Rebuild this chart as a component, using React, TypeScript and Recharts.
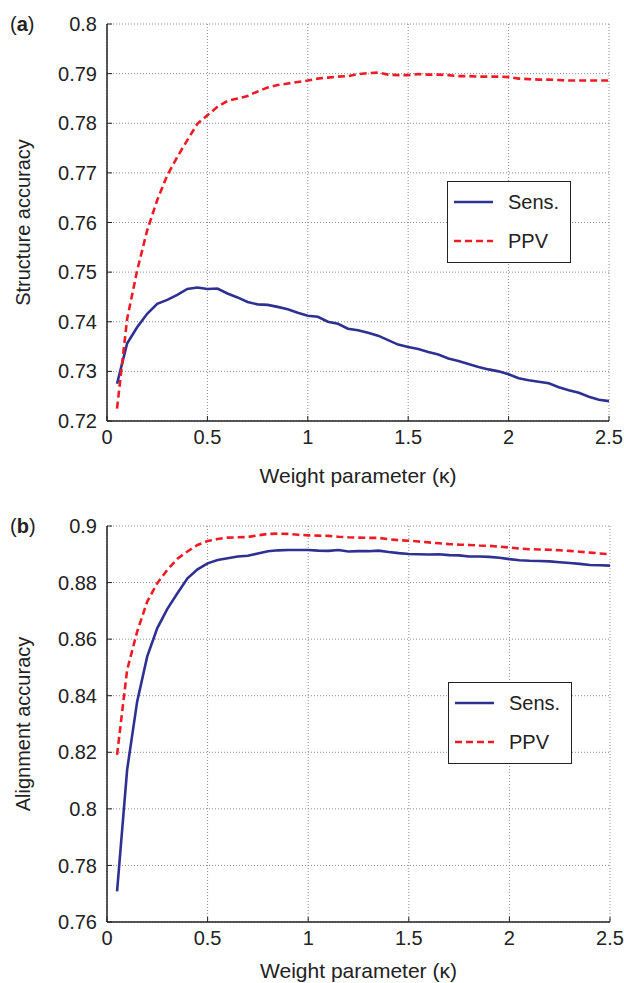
import React from 'react';
import { LineChart, Line, XAxis, YAxis, CartesianGrid, Legend } from 'recharts';

// weight parameter (kappa) values shared by both panels
const kappa = [
  0.05, 0.1, 0.15, 0.2, 0.25, 0.3, 0.35, 0.4, 0.45, 0.5,
  0.55, 0.6, 0.65, 0.7, 0.75, 0.8, 0.85, 0.9, 0.95, 1.0,
  1.05, 1.1, 1.15, 1.2, 1.25, 1.3, 1.35, 1.4, 1.45, 1.5,
  1.55, 1.6, 1.65, 1.7, 1.75, 1.8, 1.85, 1.9, 1.95, 2.0,
  2.05, 2.1, 2.15, 2.2, 2.25, 2.3, 2.35, 2.4, 2.45, 2.5,
];

// (a) structure accuracy
const structureSens = [
  0.7275, 0.7356, 0.7389, 0.7416, 0.7436, 0.7444, 0.7454, 0.7466, 0.7469, 0.7466,
  0.7467, 0.7457, 0.7449, 0.744, 0.7435, 0.7434, 0.743, 0.7425, 0.7418, 0.7412,
  0.741, 0.74, 0.7396, 0.7386, 0.7383, 0.7378, 0.7372, 0.7363, 0.7354, 0.7349,
  0.7345, 0.7339, 0.7334, 0.7326, 0.7321, 0.7315, 0.7309, 0.7304, 0.73, 0.7294,
  0.7286, 0.7282, 0.7279, 0.7276, 0.7268, 0.7262, 0.7257, 0.7249, 0.7243, 0.724,
];
const structurePpv = [
  0.7225, 0.7405, 0.7503, 0.7584, 0.7645, 0.7695, 0.7732, 0.7766, 0.7799, 0.7816,
  0.7833, 0.7845, 0.785, 0.7855, 0.7864, 0.7872, 0.7877, 0.788, 0.7883, 0.7886,
  0.789, 0.7892, 0.7894, 0.7895, 0.7899, 0.7901, 0.7902, 0.7898, 0.7897, 0.7897,
  0.7899, 0.7898, 0.7898, 0.7897, 0.7895, 0.7895, 0.7894, 0.7894, 0.7894, 0.7893,
  0.789, 0.7889, 0.7888, 0.7888, 0.7887, 0.7886, 0.7886, 0.7886, 0.7886, 0.7886,
];

// (b) alignment accuracy
const alignmentSens = [
  0.7708, 0.8138, 0.838, 0.8539, 0.8639, 0.8707, 0.8762, 0.8815, 0.8847, 0.8868,
  0.888, 0.8886, 0.8892, 0.8895, 0.8903, 0.8911, 0.8914, 0.8915, 0.8915, 0.8915,
  0.8913, 0.8912, 0.8915, 0.891, 0.8911, 0.8911, 0.8913, 0.8908, 0.8904, 0.8901,
  0.89, 0.8899, 0.89, 0.8897, 0.8896, 0.8892, 0.8892, 0.8891, 0.8888, 0.8883,
  0.8879, 0.8877, 0.8876, 0.8875, 0.8872, 0.8869, 0.8866, 0.8862, 0.8861, 0.886,
];
const alignmentPpv = [
  0.8191, 0.8491, 0.8627, 0.8733, 0.8798, 0.8845, 0.8884, 0.891, 0.8933, 0.8947,
  0.8954, 0.8959, 0.896, 0.8961, 0.8967, 0.8972, 0.8973, 0.8972, 0.8969, 0.8967,
  0.8966, 0.8965, 0.8962, 0.896, 0.8959, 0.8958, 0.8958, 0.8953, 0.895, 0.8948,
  0.8945, 0.8942, 0.8939, 0.8936, 0.8934, 0.8933, 0.8931, 0.893, 0.8927, 0.8924,
  0.892, 0.8918, 0.8917, 0.8916, 0.8914, 0.8912, 0.8909, 0.8906, 0.8903, 0.89,
];

const xTicks = [0, 0.5, 1, 1.5, 2, 2.5];
const structureTicks = [0.72, 0.73, 0.74, 0.75, 0.76, 0.77, 0.78, 0.79, 0.8];
const alignmentTicks = [0.76, 0.78, 0.8, 0.82, 0.84, 0.86, 0.88, 0.9];

const SENS_COLOR = '#2e3192';
const PPV_COLOR = '#ed1c24';
const PPV_DASH = '7 4';
const INK = '#222';

const seriesNames = ['Sens.', 'PPV'];
const seriesColors = [SENS_COLOR, PPV_COLOR];
const seriesDashes = [undefined, PPV_DASH];

const structureData = kappa.map((k, i) => ({ k, sens: structureSens[i], ppv: structurePpv[i] }));
const alignmentData = kappa.map((k, i) => ({ k, sens: alignmentSens[i], ppv: alignmentPpv[i] }));

const frame = { stroke: INK, strokeWidth: 1.5 };

// matlab-style boxed legend, Sens. above PPV
const renderLegend = () => {
  const rows = [21, 60.5];
  return (
    <div
      style={{
        width: 124,
        height: 82,
        boxSizing: 'border-box',
        border: `1.5px solid ${INK}`,
        background: '#fff',
        position: 'relative',
      }}
    >
      {seriesNames.map((name, i) => (
        <div
          key={name}
          style={{ position: 'absolute', left: 0, top: rows[i] - 13.5, height: 24, display: 'flex', alignItems: 'center' }}
        >
          <svg width={60} height={24}>
            <line
              x1={6}
              x2={45}
              y1={12}
              y2={12}
              stroke={seriesColors[i]}
              strokeWidth={2.6}
              strokeDasharray={seriesDashes[i]}
            />
          </svg>
          <span style={{ fontSize: 20, color: INK, lineHeight: '24px' }}>{name}</span>
        </div>
      ))}
    </div>
  );
};

interface PanelProps {
  data: { k: number; sens: number; ppv: number }[];
  height: number;
  top: number;
  right: number;
  xAxisHeight: number;
  titleOffset: number;
  yDomain: [number, number];
  yTicks: number[];
  yLabel: string;
  legendTop: number;
  legendLeft: number;
}

const Panel: React.FC<PanelProps> = ({
  data,
  height,
  top,
  right,
  xAxisHeight,
  titleOffset,
  yDomain,
  yTicks,
  yLabel,
  legendTop,
  legendLeft,
}) => (
  <LineChart width={624} height={height} data={data} margin={{ top, right, left: 0, bottom: 0 }}>
    <CartesianGrid stroke="#8c8c8c" strokeDasharray="1 2" strokeWidth={1} />
    <XAxis
      dataKey="k"
      type="number"
      domain={[0, 2.5]}
      ticks={xTicks}
      allowDataOverflow
      height={xAxisHeight}
      tickSize={-5}
      tickMargin={14}
      axisLine={frame}
      tickLine={{ stroke: INK }}
      tick={{ fill: INK, fontSize: 20 }}
      label={{ value: 'Weight parameter (κ)', position: 'insideBottom', offset: titleOffset, fill: INK, fontSize: 21 }}
    />
    <XAxis
      xAxisId="top"
      orientation="top"
      dataKey="k"
      type="number"
      domain={[0, 2.5]}
      ticks={xTicks}
      allowDataOverflow
      height={0}
      tickSize={-5}
      axisLine={frame}
      tickLine={{ stroke: INK }}
      tick={false}
    />
    <YAxis
      type="number"
      domain={yDomain}
      ticks={yTicks}
      allowDataOverflow
      width={107}
      tickSize={-5}
      tickMargin={15}
      axisLine={frame}
      tickLine={{ stroke: INK }}
      tick={{ fill: INK, fontSize: 20 }}
      label={{
        value: yLabel,
        angle: -90,
        position: 'insideLeft',
        offset: 23,
        fill: INK,
        fontSize: 20,
        style: { textAnchor: 'middle' },
      }}
    />
    <YAxis
      yAxisId="right"
      orientation="right"
      type="number"
      domain={yDomain}
      ticks={yTicks}
      allowDataOverflow
      width={0}
      tickSize={-5}
      axisLine={frame}
      tickLine={{ stroke: INK }}
      tick={false}
    />
    <Legend
      layout="vertical"
      align="center"
      verticalAlign="middle"
      content={renderLegend}
      wrapperStyle={{ left: legendLeft, top: legendTop, width: 124, height: 82 }}
    />
    <Line
      name={seriesNames[0]}
      dataKey="sens"
      stroke={SENS_COLOR}
      strokeWidth={2.6}
      dot={false}
      activeDot={false}
      isAnimationActive={false}
    />
    <Line
      name={seriesNames[1]}
      dataKey="ppv"
      stroke={PPV_COLOR}
      strokeWidth={2.6}
      strokeDasharray={PPV_DASH}
      dot={false}
      activeDot={false}
      isAnimationActive={false}
    />
  </LineChart>
);

export default function App() {
  return (
    <div
      style={{
        position: 'absolute',
        left: 0,
        top: 0,
        width: 624,
        height: 983,
        background: '#fff',
        fontFamily: '"Liberation Sans", Arial, sans-serif',
      }}
    >
      <Panel
        data={structureData}
        height={490}
        top={24}
        right={15}
        xAxisHeight={69}
        titleOffset={7}
        yDomain={[0.72, 0.8]}
        yTicks={structureTicks}
        yLabel="Structure accuracy"
        legendTop={181}
        legendLeft={447}
      />
      <Panel
        data={alignmentData}
        height={493}
        top={36}
        right={14}
        xAxisHeight={61}
        titleOffset={5}
        yDomain={[0.76, 0.9]}
        yTicks={alignmentTicks}
        yLabel="Alignment accuracy"
        legendTop={192}
        legendLeft={448}
      />
      <svg
        width={624}
        height={983}
        style={{ position: 'absolute', left: 0, top: 0, pointerEvents: 'none' }}
      >
        <text x={10} y={31} fontSize={20} fill={INK}>
          (<tspan fontWeight="bold">a</tspan>)
        </text>
        <text x={10} y={533} fontSize={20} fill={INK}>
          (<tspan fontWeight="bold">b</tspan>)
        </text>
      </svg>
    </div>
  );
}
